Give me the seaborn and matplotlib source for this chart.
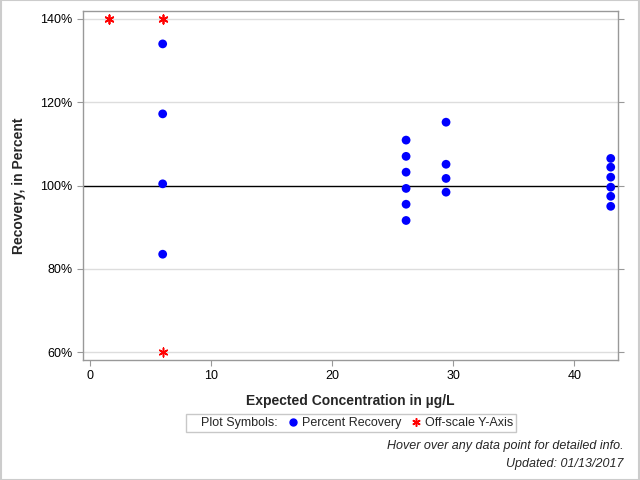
import numpy as np
import pandas as pd
import matplotlib.pyplot as plt
import seaborn as sns
from matplotlib.lines import Line2D
from matplotlib.ticker import FuncFormatter

# Percent recovery points (expected concentration, recovery %)
conc = [6.0, 6.0, 6.0, 6.0,
        26.1, 26.1, 26.1, 26.1, 26.1, 26.1,
        29.4, 29.4, 29.4, 29.4,
        43.0, 43.0, 43.0, 43.0, 43.0, 43.0]
recovery = [134.0, 117.2, 100.4, 83.5,
            110.9, 107.0, 103.2, 99.3, 95.5, 91.6,
            115.2, 105.1, 101.7, 98.4,
            106.5, 104.4, 102.0, 99.6, 97.4, 95.0]

# Off-scale points, drawn at the axis limits (some overlap)
off_conc = [1.6, 1.6, 6.0, 6.0, 6.0]
off_recovery = [140.0, 140.0, 140.0, 140.0, 60.0]

df = pd.DataFrame({'conc': conc, 'recovery': recovery})
df_off = pd.DataFrame({'conc': off_conc, 'recovery': off_recovery})

sns.set_style('white')
plt.rcParams['font.family'] = ['Liberation Sans', 'DejaVu Sans']

fig = plt.figure(figsize=(6.4, 4.8), dpi=100)
ax = fig.add_axes([83 / 640, 1 - 360 / 480, 535 / 640, 349 / 480])

for y in [60, 80, 120, 140]:
    ax.axhline(y, color='#dddddd', lw=1, zorder=0)
ax.axhline(100, color='black', lw=1, zorder=1)

sns.scatterplot(data=df, x='conc', y='recovery', color='#0000ff', s=40,
                edgecolor='none', ax=ax, zorder=3)
sns.scatterplot(data=df_off, x='conc', y='recovery', marker=(6, 2, 0),
                color='red', edgecolor='red', s=40, linewidth=1.1, ax=ax, zorder=4)

ax.set_xlim(-0.58, 43.6)
ax.set_ylim(58.1, 141.9)
ax.set_xticks([0, 10, 20, 30, 40])
ax.set_yticks([60, 80, 100, 120, 140])
ax.yaxis.set_major_formatter(FuncFormatter(lambda v, p: f'{v:.0f}%'))
ax.tick_params(axis='both', labelsize=9, labelcolor='black', length=4, width=0.8,
               direction='out', color='#999999')
ax.tick_params(axis='y', right=True, left=True)
ax.tick_params(axis='x', bottom=True)
for sp in ax.spines.values():
    sp.set_color('#999999')
    sp.set_linewidth(1)

ax.set_xlabel('Expected Concentration in µg/L', fontsize=10, fontweight='bold', labelpad=8)
ax.set_ylabel('Recovery, in Percent', fontsize=10, fontweight='bold', labelpad=10)

handles = [Line2D([], [], ls='none'),
           Line2D([], [], marker='o', color='#0000ff', ls='none', markersize=5),
           Line2D([], [], marker=(6, 2, 0), color='red', ls='none', markersize=6, mew=1.1)]
leg = fig.legend(handles, ['Plot Symbols:', 'Percent Recovery', 'Off-scale Y-Axis'],
                 loc='center', bbox_to_anchor=(351 / 640, 1 - 423 / 480),
                 ncol=3, fontsize=9, frameon=True, fancybox=False,
                 borderpad=0.25, handletextpad=0.4, columnspacing=0.9, handlelength=0.6)
leg.get_frame().set_edgecolor('#bbbbbb')
leg.get_frame().set_linewidth(1)

fig.text(624 / 640, 1 - 446 / 480, 'Hover over any data point for detailed info.',
         ha='right', va='center', fontsize=9, style='italic')
fig.text(624 / 640, 1 - 464 / 480, 'Updated: 01/13/2017',
         ha='right', va='center', fontsize=9, style='italic')

fig.patches.append(plt.Rectangle((0.001, 0.001), 0.998, 0.998, transform=fig.transFigure,
                                 fill=False, edgecolor='#cccccc', lw=1.5))

fig.savefig('out.png', dpi=100)
